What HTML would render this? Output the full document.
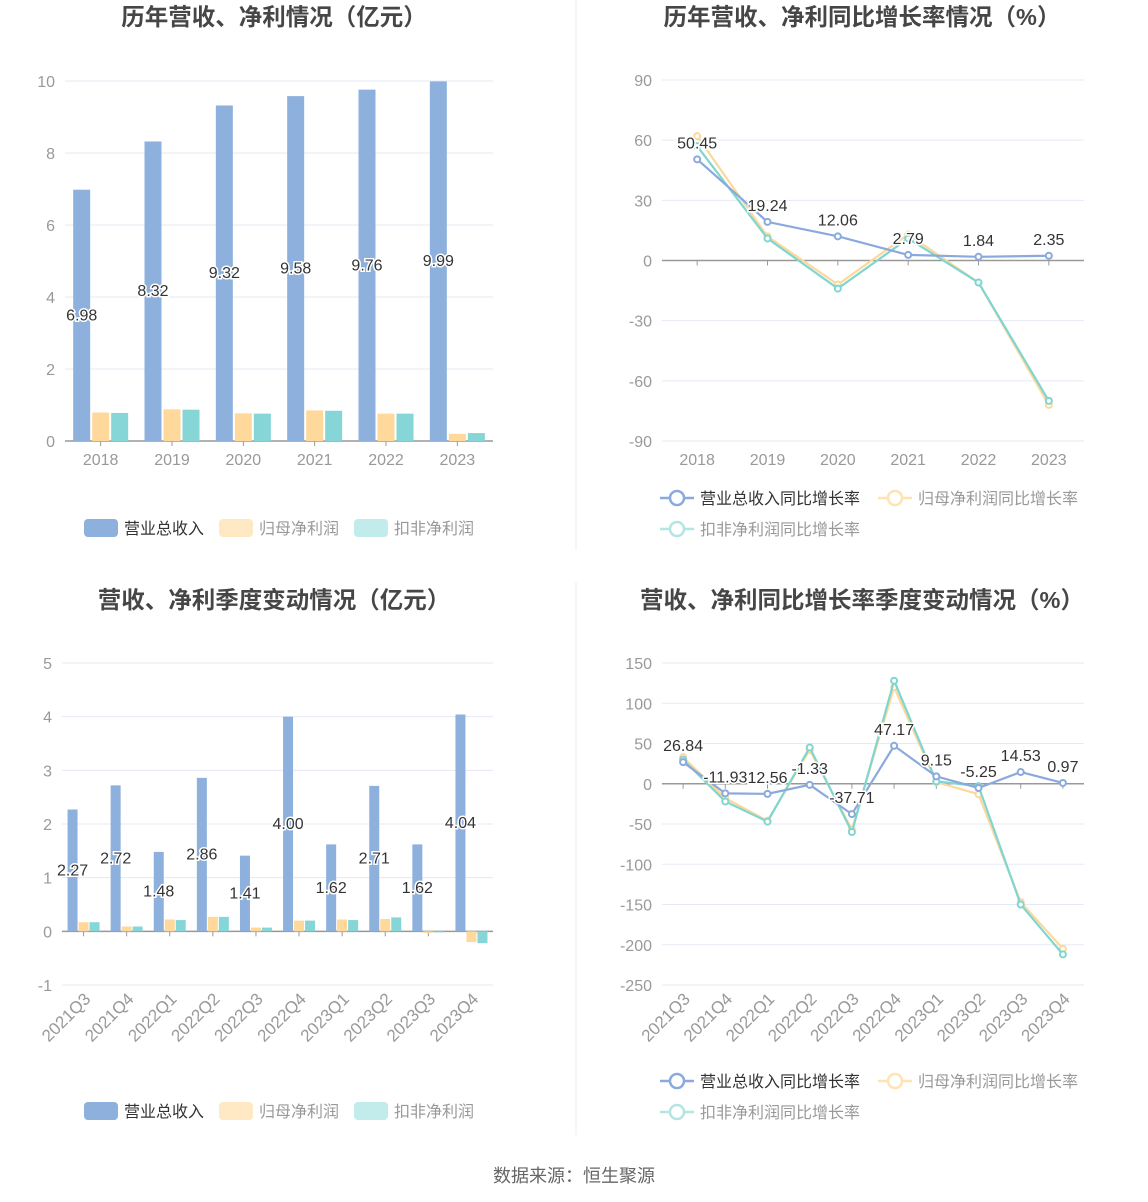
<!DOCTYPE html>
<html><head><meta charset="utf-8"><style>
body{margin:0;background:#fff;}
svg{display:block;font-family:"Liberation Sans","Noto Sans CJK SC",sans-serif;}
</style></head><body>
<svg id="s" width="1148" height="1202"></svg>
<script>
const years=["2018","2019","2020","2021","2022","2023"];
const revA=[6.98,8.32,9.32,9.58,9.76,9.99];
const npA=[0.79,0.88,0.77,0.85,0.76,0.20];
const dnA=[0.78,0.87,0.76,0.84,0.76,0.22];
const yTicksA=[0,2,4,6,8,10];
const gRev=[50.45,19.24,12.06,2.79,1.84,2.35];
const gNp=[62,12,-12,13,-11,-72];
const gDn=[57,11,-14,11,-11,-70];
const yTicksB=[-90,-60,-30,0,30,60,90];
const qs=["2021Q3","2021Q4","2022Q1","2022Q2","2022Q3","2022Q4","2023Q1","2023Q2","2023Q3","2023Q4"];
const revQ=[2.27,2.72,1.48,2.86,1.41,4.00,1.62,2.71,1.62,4.04];
const npQ=[0.17,0.09,0.22,0.27,0.07,0.20,0.22,0.23,-0.03,-0.20];
const dnQ=[0.17,0.09,0.21,0.27,0.07,0.20,0.21,0.26,-0.02,-0.22];
const yTicksC=[-1,0,1,2,3,4,5];
const qRev=[26.84,-11.93,-12.56,-1.33,-37.71,47.17,9.15,-5.25,14.53,0.97];
const qNp=[33,-18,-46,42,-57,120,2,-13,-147,-205];
const qDn=[30,-22,-47,45,-60,128,3,-3,-150,-212];
const yTicksD=[-250,-200,-150,-100,-50,0,50,100,150];
const qRevLbl=["26.84","-11.93","12.56","-1.33","-37.71","47.17","9.15","-5.25","14.53","0.97"];

const S=document.getElementById('s');const NS="http://www.w3.org/2000/svg";
function el(t,a,txt,p){const e=document.createElementNS(NS,t);for(const k in a)e.setAttribute(k,a[k]);if(txt!=null)e.textContent=txt;(p||S).appendChild(e);return e;}
const BLUE="#8eb0dc",YEL="#ffd99b",CYAN="#86d6d8",LBLUE="#8aa9dd",LYEL="#fdd89a",LCYAN="#7fd6d0";

function title(x,y,t,n){const e=el('text',{x:x,y:y,'text-anchor':'middle','font-size':23.5,'font-weight':'bold',fill:'#464646'},t);}
title(274,25,"历年营收、净利情况（亿元）","title-annual-amounts");
title(862,25,"历年营收、净利同比增长率情况（%）","title-annual-growth");
title(274,608,"营收、净利季度变动情况（亿元）","title-quarterly-amounts");
title(862,608,"营收、净利同比增长率季度变动情况（%）","title-quarterly-growth");
const dv=el('line',{x1:576,y1:0,x2:576,y2:550,stroke:'#eee'});
const dv2=el('line',{x1:576,y1:582,x2:576,y2:1135,stroke:'#eee'});

function axes(o){
  const g=el('g',{});
  const y=v=>o.y0-(v-o.vmin)/(o.vmax-o.vmin)*(o.y0-o.y1);
  const bw=(o.x1-o.x0)/o.cats.length;const cx=i=>o.x0+bw*(i+0.5);
  o.ticks.forEach(t=>{
    el('line',{x1:o.x0,x2:o.x1,y1:y(t),y2:y(t),stroke:'#e6eaf5'},null,g);
    const tl=el('text',{x:o.x0-10,y:y(t)+6,'text-anchor':'end','font-size':16,fill:'#999'},t,g);
    
  });
  el('line',{x1:o.x0,x2:o.x1,y1:y(0),y2:y(0),stroke:'#999','stroke-width':1.5},null,g);
  o.cats.forEach((c,i)=>{
    el('line',{x1:cx(i),x2:cx(i),y1:y(0),y2:y(0)+5,stroke:'#999'},null,g);
    let t;
    if(o.rot){t=el('text',{x:cx(i)+8,y:o.labY,'text-anchor':'end','font-size':17,fill:'#999',transform:`rotate(-45 ${cx(i)+8} ${o.labY})`},c,g);}
    else t=el('text',{x:cx(i),y:o.labY,'text-anchor':'middle','font-size':16,fill:'#999'},c,g);
    
  });
  return {y,cx,bw,g};
}
function label(g,x,y,t){const e=el('text',{x:x,y:y,'text-anchor':'middle','font-size':16,fill:'#333',stroke:'#fff','stroke-width':3,'paint-order':'stroke'},t,g);}
function bars(o,ax,series,cols,bwid,gap,labs){
  series.forEach((arr,si)=>{arr.forEach((v,i)=>{
    const x=ax.cx(i)+(si-1)*(bwid+gap)-bwid/2;const y0=ax.y(0),yv=ax.y(v);
    const r=el('rect',{x:x,y:Math.min(y0,yv),width:bwid,height:Math.abs(y0-yv),fill:cols[si]},null,ax.g);
    
  });});
  labs.forEach((t,i)=>label(ax.g,ax.cx(i)-(bwid+gap),ax.y(revLab[o.k][i]/2)+5,t));
}
function lines(ax,series,cols,labs,labVals){
  series.forEach((arr,si)=>{
    const pts=arr.map((v,i)=>ax.cx(i)+','+ax.y(v)).join(' ');
    const pl=el('polyline',{points:pts,fill:'none',stroke:cols[si],'stroke-width':2.2},null,ax.g);
    
    arr.forEach((v,i)=>{const c=el('circle',{cx:ax.cx(i),cy:ax.y(v),r:3,fill:'#fff',stroke:cols[si],'stroke-width':2},null,ax.g);
      });
  });
  labVals.forEach((v,i)=>label(ax.g,ax.cx(i),ax.y(v)-11,labs[i]));
}
const revLab={a:revA,c:revQ};
const axA=axes({name:'chart-annual-amounts',x0:65,x1:493,y0:441,y1:81,vmin:0,vmax:10,ticks:yTicksA,cats:years,labY:465});
bars({cats:years,k:'a'},axA,[revA,npA,dnA],[BLUE,YEL,CYAN],17,2,revA.map(String));
const axB=axes({name:'chart-annual-growth',x0:662,x1:1084,y0:441,y1:80,vmin:-90,vmax:90,ticks:yTicksB,cats:years,labY:465});
lines(axB,[gNp,gDn,gRev],[LYEL,LCYAN,LBLUE],gRev.map(String),gRev);
const axC=axes({name:'chart-quarterly-amounts',x0:62,x1:493,y0:985,y1:663,vmin:-1,vmax:5,ticks:yTicksC,cats:qs,labY:1000,rot:true});
bars({cats:qs,k:'c'},axC,[revQ,npQ,dnQ],[BLUE,YEL,CYAN],10,1,revQ.map(v=>v.toFixed(2)));
const axD=axes({name:'chart-quarterly-growth',x0:662,x1:1084,y0:985,y1:663,vmin:-250,vmax:150,ticks:yTicksD,cats:qs,labY:1000,rot:true});
lines(axD,[qNp,qDn,qRev],[LYEL,LCYAN,LBLUE],qRevLbl,qRev);

function barLegend(y){
  [[84,BLUE,"营业总收入",'#333'],[219,'#ffe9c4',"归母净利润",'#999'],[354,'#c2ebeb',"扣非净利润",'#999']].forEach(([x,c,t,tc])=>{
    const g=el('g',{});
    el('rect',{x:x,y:y-9,width:34,height:18,rx:4,fill:c},null,g);
    el('text',{x:x+40,y:y+6,'font-size':16,fill:tc},t,g);});
}
function lineLegend(y){
  [[660,y,LBLUE,"营业总收入同比增长率",'#333'],[878,y,'#ffe3b0',"归母净利润同比增长率",'#999'],[660,y+31,'#b3e6e3',"扣非净利润同比增长率",'#999']].forEach(([x,yy,c,t,tc])=>{
    const g=el('g',{});
    el('line',{x1:x,x2:x+34,y1:yy,y2:yy,stroke:c,'stroke-width':2.5},null,g);
    el('circle',{cx:x+17,cy:yy,r:7,fill:'#fff',stroke:c,'stroke-width':2.5},null,g);
    el('text',{x:x+40,y:yy+6,'font-size':16,fill:tc},t,g);});
}
barLegend(528);lineLegend(498);barLegend(1111);lineLegend(1081);
const f=el('text',{x:574,y:1182,'text-anchor':'middle','font-size':18,fill:'#666'},"数据来源：恒生聚源");

</script>
</body></html>
